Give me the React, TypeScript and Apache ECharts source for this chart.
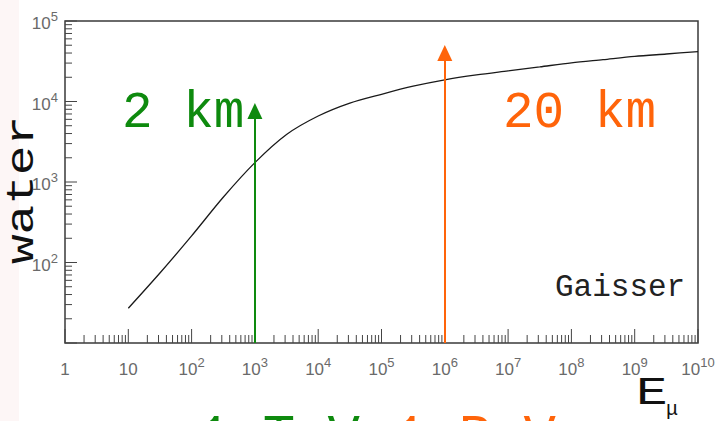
import React, { useEffect, useRef } from "react";
import * as echarts from "echarts";

// Muon range in water (m.w.e.) versus muon energy (GeV)
const energies = [
  10, 31.6, 100, 316, 1e3, 3.16e3, 1e4, 3.16e4, 1e5, 3.16e5, 1e6, 3.16e6, 1e7,
  3.16e7, 1e8, 3.16e8, 1e9, 3.16e9, 1e10,
];
const ranges = [
  27, 74, 214, 646, 1740, 3890, 6600, 9550, 12300, 15500, 18600, 21400, 24000,
  26900, 30200, 33100, 36300, 38900, 41700,
];

// Reference energies marked with arrows (1 TeV, 1 PeV) and where the arrows stop
const arrowEnergies = [1e3, 1e6];
const arrowTops = [7600, 40000];
const arrowColors = ["#0e8a0e", "#ff640a"];

// Axis extents and tick decades
const xMin = 1;
const xMax = 1e10;
const yMin = 10;
const yMax = 1e5;
const xDecades = [1, 10, 1e2, 1e3, 1e4, 1e5, 1e6, 1e7, 1e8, 1e9, 1e10];
const yDecades = [10, 1e2, 1e3, 1e4, 1e5];
const minorSteps = [2, 3, 4, 5, 6, 7, 8, 9];

const GREEN = arrowColors[0];
const ORANGE = arrowColors[1];
const MONO = '"Liberation Mono", "Courier New", monospace';

function buildTicks(decades: number[]) {
  const out: { v: number; major: boolean }[] = [];
  decades.forEach((d, i) => {
    out.push({ v: d, major: true });
    if (i < decades.length - 1) {
      minorSteps.forEach((m) => out.push({ v: d * m, major: false }));
    }
  });
  return out;
}

const supLabel = (value: number, hideFirst: boolean) => {
  const e = Math.round(Math.log10(value));
  if (hideFirst && e === 1) return "";
  if (e === 0) return "{b|1}";
  if (e === 1) return "{b|10}";
  return `{b|10}{s|${e}}`;
};

const labelRich = {
  b: {
    fontSize: 17,
    fontFamily: '"Liberation Sans", Arial, sans-serif',
    color: "#6a6a6a",
    lineHeight: 22,
    verticalAlign: "bottom",
  },
  s: {
    fontSize: 13,
    fontFamily: '"Liberation Sans", Arial, sans-serif',
    color: "#6a6a6a",
    lineHeight: 22,
    verticalAlign: "top",
  },
};

export default function App() {
  const ref = useRef<HTMLDivElement>(null);

  useEffect(() => {
    if (!ref.current) return;
    const chart = echarts.init(ref.current, undefined, { renderer: "svg" });

    const xTicks = buildTicks(xDecades).map((t) => [t.v, yMin, t.major ? 14 : 8]);
    const yTicks = buildTicks(yDecades).map((t) => [xMin, t.v, t.major ? 12 : 7]);

    const tickStyle = { stroke: "#444", lineWidth: 1 };

    chart.setOption({
      animation: false,
      backgroundColor: "#fff",
      grid: {
        left: 65,
        right: 25,
        top: 21,
        bottom: 78,
        show: true,
        borderColor: "#3a3a3a",
        borderWidth: 1.5,
        backgroundColor: "transparent",
      },
      xAxis: {
        type: "log",
        logBase: 10,
        min: xMin,
        max: xMax,
        interval: 1,
        axisLine: { show: false },
        axisTick: { show: false },
        splitLine: { show: false },
        axisLabel: {
          margin: 13,
          showMinLabel: true,
          showMaxLabel: true,
          formatter: (v: number) => supLabel(v, false),
          rich: labelRich,
        },
      },
      yAxis: {
        type: "log",
        logBase: 10,
        min: yMin,
        max: yMax,
        interval: 1,
        axisLine: { show: false },
        axisTick: { show: false },
        splitLine: { show: false },
        axisLabel: {
          margin: 7,
          formatter: (v: number) => supLabel(v, true),
          rich: labelRich,
        },
      },
      graphic: [
        {
          type: "rect",
          shape: { x: 0, y: 0, width: 19, height: 421 },
          style: { fill: "#fdf6f6" },
          z: -1,
        },
        {
          type: "text",
          x: 23,
          y: 190,
          rotation: Math.PI / 2,
          scaleX: 1.3,
          style: {
            text: "water",
            font: `38px ${MONO}`,
            fill: "#111",
            align: "center",
            verticalAlign: "middle",
          },
        },
        {
          type: "text",
          x: 122,
          y: 113,
          style: { text: "2 km", font: `51px ${MONO}`, fill: GREEN, verticalAlign: "middle" },
        },
        {
          type: "text",
          x: 503,
          y: 113,
          style: { text: "20 km", font: `51px ${MONO}`, fill: ORANGE, verticalAlign: "middle" },
        },
        {
          type: "text",
          x: 555,
          y: 287,
          style: { text: "Gaisser", font: `31px ${MONO}`, fill: "#222", verticalAlign: "middle" },
        },
        {
          type: "text",
          x: 636,
          y: 393,
          scaleX: 1.35,
          style: { text: "E", font: `39px ${MONO}`, fill: "#111", verticalAlign: "middle" },
        },
        {
          type: "text",
          x: 666,
          y: 409,
          style: { text: "μ", font: `20px ${MONO}`, fill: "#111", verticalAlign: "middle" },
        },
        {
          type: "text",
          x: 198,
          y: 437,
          style: { text: "1 TeV", font: `54px ${MONO}`, fill: GREEN, verticalAlign: "middle" },
        },
        {
          type: "text",
          x: 394,
          y: 437,
          style: { text: "1 PeV", font: `54px ${MONO}`, fill: ORANGE, verticalAlign: "middle" },
        },
      ],
      series: [
        {
          type: "custom",
          name: "xTicks",
          silent: true,
          data: xTicks,
          encode: { x: 0, y: 1 },
          renderItem: (_p: any, api: any) => {
            const pt = api.coord([api.value(0), api.value(1)]);
            const len = api.value(2);
            return {
              type: "line",
              shape: { x1: pt[0], y1: pt[1], x2: pt[0], y2: pt[1] - len },
              style: tickStyle,
            };
          },
        },
        {
          type: "custom",
          name: "yTicks",
          silent: true,
          data: yTicks,
          encode: { x: 0, y: 1 },
          renderItem: (_p: any, api: any) => {
            const pt = api.coord([api.value(0), api.value(1)]);
            const len = api.value(2);
            return {
              type: "line",
              shape: { x1: pt[0], y1: pt[1], x2: pt[0] + len, y2: pt[1] },
              style: tickStyle,
            };
          },
        },
        {
          type: "line",
          name: "range",
          data: energies.map((e, i) => [e, ranges[i]]),
          showSymbol: false,
          smooth: 0.3,
          lineStyle: { color: "#1a1a1a", width: 1.3 },
          silent: true,
          z: 3,
          markLine: {
            silent: true,
            symbol: ["none", "triangle"],
            symbolSize: [15, 16],
            label: { show: false },
            animation: false,
            data: arrowEnergies.map((e, i) => [
              { coord: [e, yMin], lineStyle: { color: arrowColors[i], width: 2, type: "solid" } },
              { coord: [e, arrowTops[i]] },
            ]),
          },
        },
      ],
    });

    return () => chart.dispose();
  }, []);

  return (
    <div
      ref={ref}
      style={{ position: "fixed", left: 0, top: 0, width: 723, height: 421, background: "#fff" }}
    />
  );
}
